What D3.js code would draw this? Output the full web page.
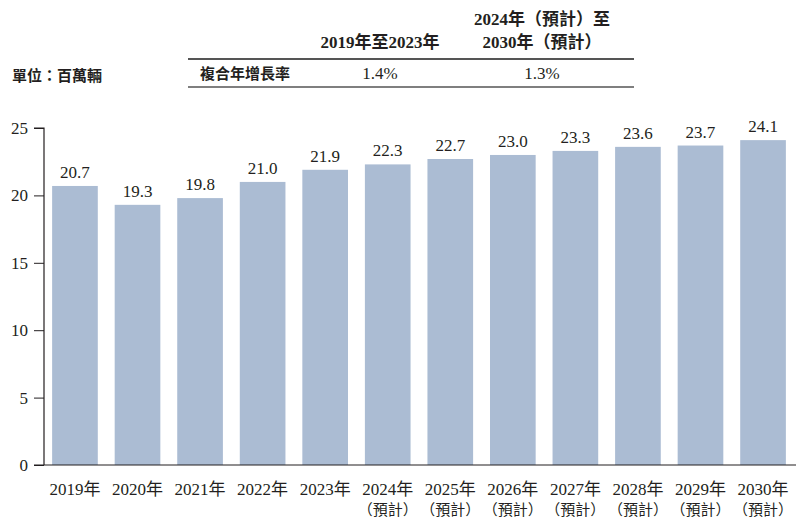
<!DOCTYPE html>
<html>
<head>
<meta charset="utf-8">
<script src="https://cdn.jsdelivr.net/npm/d3@7"></script>
<style>
  body { margin: 0; background: #fff; }
  svg text { font-family: "Times New Roman", "Liberation Serif", Tinos, "DejaVu Serif", "Noto Sans CJK TC", serif; fill: #231f20; }
  svg text.cjk { font-family: "Noto Sans CJK TC", sans-serif; }
</style>
</head>
<body>
<svg id="chart" width="796" height="521"></svg>
<script>
// data
var years = ["2019年", "2020年", "2021年", "2022年", "2023年", "2024年", "2025年", "2026年", "2027年", "2028年", "2029年", "2030年"];
var forecast = [false, false, false, false, false, true, true, true, true, true, true, true];
var sales = [20.7, 19.3, 19.8, 21.0, 21.9, 22.3, 22.7, 23.0, 23.3, 23.6, 23.7, 24.1];
var yTicks = [0, 5, 10, 15, 20, 25];
var cagrHeaders = [["2019年至2023年"], ["2024年（預計）至", "2030年（預計）"]];
var cagrValues = ["1.4%", "1.3%"];

var svg = d3.select("#chart");

var xScale = d3.scaleBand()
    .domain(years)
    .range([44, 794])
    .paddingInner(0.27)
    .paddingOuter(0.13);

var yScale = d3.scaleLinear()
    .domain([0, 25])
    .range([465, 128]);

// bars
svg.selectAll(".bar")
    .data(sales)
    .enter()
    .append("rect")
    .attr("class", "bar")
    .attr("x", function(d, i) { return xScale(years[i]); })
    .attr("y", function(d) { return yScale(d); })
    .attr("width", xScale.bandwidth())
    .attr("height", function(d) { return yScale(0) - yScale(d); })
    .attr("fill", "#abbcd3");

// value labels
svg.selectAll(".val")
    .data(sales)
    .enter()
    .append("text")
    .attr("class", "val")
    .attr("x", function(d, i) { return xScale(years[i]) + xScale.bandwidth() / 2; })
    .attr("y", function(d) { return yScale(d) - 8; })
    .attr("text-anchor", "middle")
    .attr("font-size", 17)
    .text(function(d) { return d.toFixed(1); });

// y axis
var yAxis = d3.axisLeft(yScale).tickValues(yTicks).tickSize(10).tickPadding(6);
var yg = svg.append("g")
    .attr("transform", "translate(44,0)")
    .call(yAxis);
yg.attr("font-family", null);
yg.select(".domain").attr("stroke", "#231f20").attr("stroke-width", 1.2).attr("d", "M-10,128H0V465");
yg.selectAll(".tick line").attr("stroke", "#231f20");
yg.selectAll(".tick text").attr("font-size", 17).attr("fill", "#231f20");

// x axis baseline
svg.append("line")
    .attr("x1", 34).attr("x2", 796)
    .attr("y1", yScale(0)).attr("y2", yScale(0))
    .attr("stroke", "#231f20").attr("stroke-width", 1.2);

// x labels
svg.selectAll(".xl")
    .data(years)
    .enter()
    .append("text")
    .attr("class", "xl")
    .attr("text-anchor", "middle")
    .attr("font-size", 17)
    .attr("x", function(d) { return xScale(d) + xScale.bandwidth() / 2; })
    .attr("y", 495)
    .text(function(d) { return d; });

svg.selectAll(".xl2")
    .data(years.filter(function(d, i) { return forecast[i]; }))
    .enter()
    .append("text")
    .attr("class", "xl2 cjk")
    .attr("text-anchor", "middle")
    .attr("x", function(d) { return xScale(d) + xScale.bandwidth() / 2; })
    .attr("y", 515)
    .attr("font-size", 15)
    .text("（預計）");

// CAGR table
var colX = [380, 542];
svg.append("line").attr("x1", 188).attr("x2", 634).attr("y1", 59).attr("y2", 59)
    .attr("stroke", "#555").attr("stroke-width", 2);
svg.append("line").attr("x1", 188).attr("x2", 634).attr("y1", 87).attr("y2", 87)
    .attr("stroke", "#555").attr("stroke-width", 1.5);

cagrHeaders.forEach(function(lines, i) {
    lines.forEach(function(t, j) {
        svg.append("text")
            .attr("x", colX[i])
            .attr("y", 48 - (lines.length - 1 - j) * 23)
            .attr("text-anchor", "middle")
            .attr("font-size", 17)
            .attr("font-weight", "bold")
            .text(t);
    });
});

svg.selectAll(".cagr")
    .data(cagrValues)
    .enter()
    .append("text")
    .attr("class", "cagr")
    .attr("x", function(d, i) { return colX[i]; })
    .attr("y", 79)
    .attr("text-anchor", "middle")
    .attr("font-size", 17)
    .text(function(d) { return d; });

svg.append("text")
    .attr("class", "cjk")
    .attr("x", 200).attr("y", 79)
    .attr("font-size", 15)
    .attr("font-weight", "bold")
    .text("複合年增長率");

svg.append("text")
    .attr("class", "cjk")
    .attr("x", 12).attr("y", 81)
    .attr("font-size", 15)
    .attr("font-weight", "bold")
    .text("單位：百萬輛");
</script>
</body>
</html>
